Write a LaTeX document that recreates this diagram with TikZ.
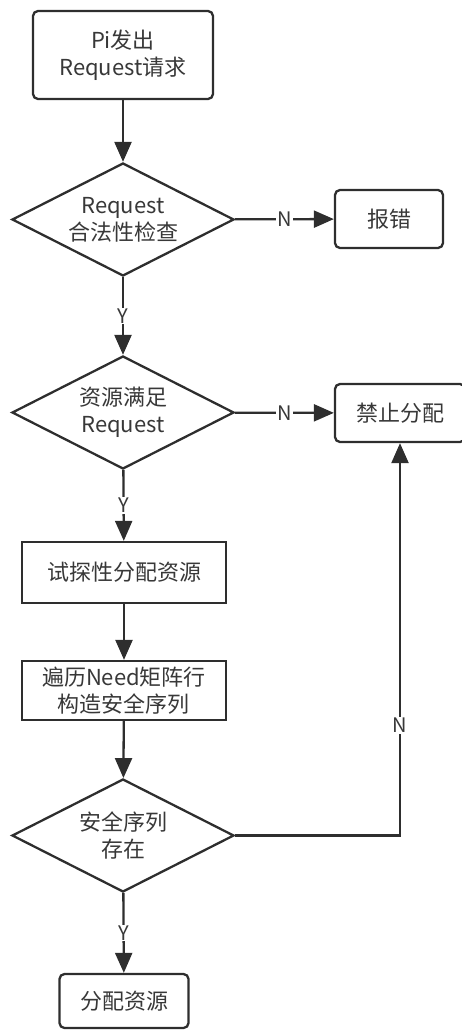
\documentclass[tikz,border=0pt]{standalone}
\usepackage{fontspec}
\setmainfont{Noto Sans CJK SC}
\usetikzlibrary{shapes.geometric,arrows.meta}
\definecolor{linegray}{HTML}{2E2E2E}
\definecolor{textgray}{HTML}{383838}
\begin{document}
\begin{tikzpicture}[x=1pt,y=-1pt,
  every node/.style={text=textgray, font=\fontsize{22pt}{27pt}\selectfont},
  box/.style={rectangle, line width=2.3pt, draw=linegray, align=center, inner sep=0pt},
  rbox/.style={box, rounded corners=5pt},
  check/.style={diamond, aspect=2, line width=2.3pt, draw=linegray, align=center, inner sep=0pt, minimum width=222pt, minimum height=113pt},
  lbl/.style={fill=white, inner sep=1pt, font=\fontsize{20pt}{24pt}\selectfont},
  flow/.style={line width=2.3pt, draw=linegray, -{Triangle[length=20pt,width=17pt]}}]
\useasboundingbox (0,0) rectangle (462,1030);
\node[rbox, minimum width=180pt, minimum height=88pt](start) at (123,55) {Pi发出\\Request请求};
\node[check](legal) at (123,219.5) {Request\\合法性检查};
\node[rbox, minimum width=108pt, minimum height=58pt](err) at (389,219) {报错};
\node[check](enough) at (123,412.5) {资源满足\\Request};
\node[rbox, minimum width=130pt, minimum height=58pt](deny) at (400,413) {禁止分配};
\node[box, minimum width=204pt, minimum height=61pt](trial) at (124,572.5) {试探性分配资源};
\node[box, minimum width=204pt, minimum height=59pt](need) at (124,690.5) {遍历Need矩阵行\\构造安全序列};
\node[check](safe) at (123,835.5) {安全序列\\存在};
\node[rbox, minimum width=129pt, minimum height=54pt](alloc) at (124,1001) {分配资源};
\draw[flow] (start)--(legal);
\draw[flow] (legal)--node[lbl]{N} (err);
\draw[flow] (legal)--node[lbl]{Y} (enough);
\draw[flow] (enough)--node[lbl]{N} (deny);
\draw[flow] (enough)--node[lbl]{Y} (trial);
\draw[flow] (trial)--(need);
\draw[flow] (need)--(safe);
\draw[flow] (safe)--node[lbl]{Y} (alloc);
\draw[flow] (safe)-|node[lbl, pos=0.64]{N} (deny);
\end{tikzpicture}
\end{document}
